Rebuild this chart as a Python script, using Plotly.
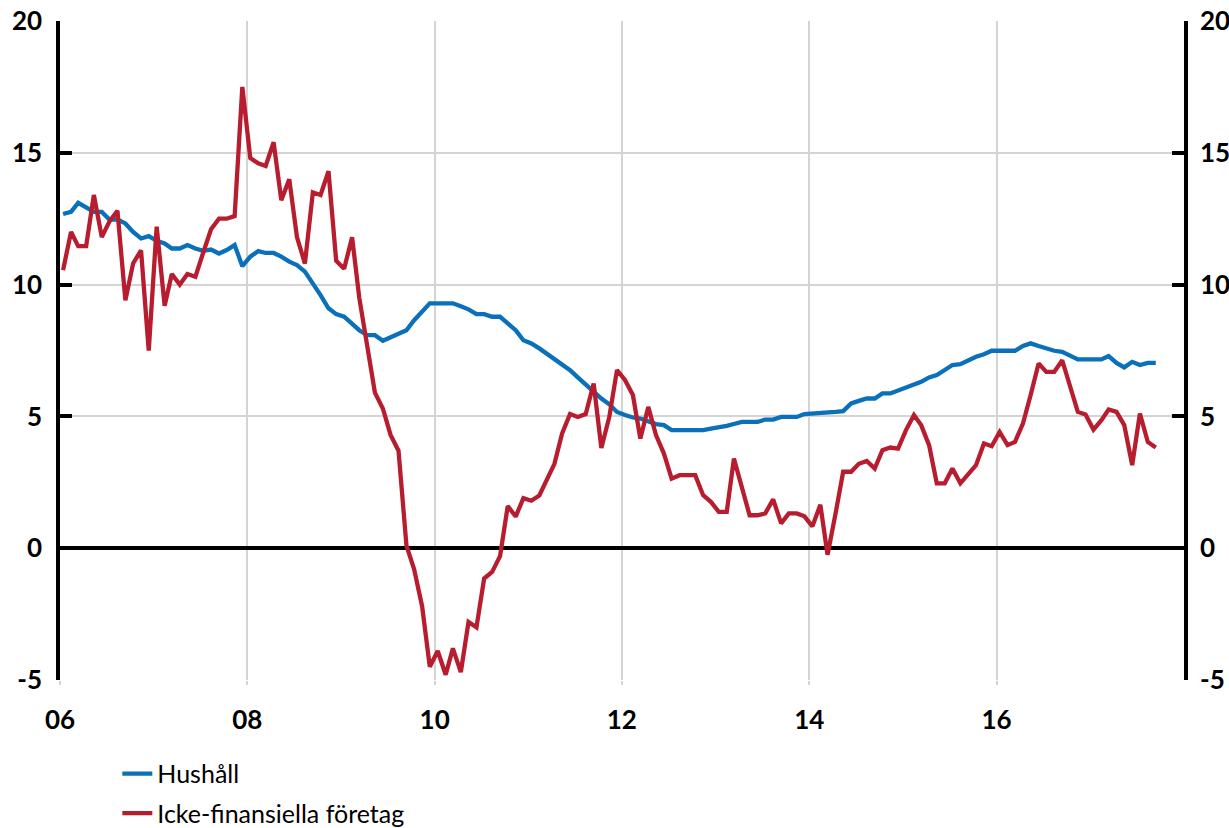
import pandas as pd
import plotly.graph_objects as go

start_month = "2006-01"
n_months = 141

hushall = [
    12.68, 12.76, 13.10, 12.93, 12.76, 12.76, 12.47, 12.47, 12.32, 12.00, 11.75, 11.84,
    11.66, 11.56, 11.37, 11.37, 11.50, 11.37, 11.28, 11.33, 11.18, 11.31, 11.50, 10.70,
    11.06, 11.27, 11.20, 11.20, 11.06, 10.87, 10.74, 10.49, 10.07, 9.60, 9.10, 8.88,
    8.78, 8.53, 8.27, 8.08, 8.08, 7.87, 8.00, 8.17, 8.27, 8.65, 8.97, 9.29,
    9.29, 9.29, 9.29, 9.18, 9.06, 8.88, 8.88, 8.78, 8.78, 8.53, 8.27, 7.89,
    7.77, 7.58, 7.39, 7.20, 7.01, 6.75, 6.48, 6.20, 5.90, 5.68, 5.46, 5.17,
    5.05, 4.96, 4.92, 4.83, 4.71, 4.67, 4.48, 4.48, 4.48, 4.48, 4.48, 4.54,
    4.58, 4.64, 4.71, 4.79, 4.79, 4.79, 4.88, 4.88, 4.98, 4.98, 4.98, 5.09,
    5.11, 5.11, 5.11, 5.17, 5.20, 5.49, 5.59, 5.68, 5.68, 5.87, 5.87, 5.97,
    6.10, 6.19, 6.31, 6.48, 6.57, 6.76, 6.95, 6.98, 7.13, 7.26, 7.36, 7.49,
    7.49, 7.49, 7.49, 7.67, 7.77, 7.67, 7.58, 7.49, 7.45, 7.29, 7.16, 7.16,
    7.16, 7.16, 7.29, 7.03, 6.86, 7.07, 6.95, 7.03, 7.03,
]

foretag = [
    10.55, 12.00, 11.46, 11.46, 13.40, 11.80, 12.40, 12.80, 9.40, 10.80, 11.30, 7.50,
    12.20, 9.20, 10.40, 10.00, 10.40, 10.30, 11.20, 12.10, 12.50, 12.50, 12.60, 17.50,
    14.80, 14.60, 14.50, 15.40, 13.20, 14.00, 11.80, 10.80, 13.50, 13.40, 14.30, 10.90,
    10.60, 11.80, 9.50, 7.60, 5.90, 5.30, 4.30, 3.70, 0.10, -0.80, -2.20, -4.50,
    -3.90, -4.80, -3.80, -4.70, -2.80, -3.00, -1.15, -0.90, -0.30, 1.60, 1.20, 1.90,
    1.80, 2.00, 2.60, 3.20, 4.35, 5.09, 4.98, 5.09, 6.25, 3.80, 4.98, 6.76,
    6.38, 5.81, 4.16, 5.36, 4.29, 3.59, 2.64, 2.77, 2.77, 2.77, 2.01, 1.76,
    1.38, 1.38, 3.40, 2.33, 1.25, 1.25, 1.32, 1.85, 0.94, 1.32, 1.32, 1.21,
    0.83, 1.65, -0.25, 1.30, 2.90, 2.90, 3.20, 3.31, 3.02, 3.72, 3.82, 3.78,
    4.48, 5.05, 4.67, 3.91, 2.46, 2.46, 3.02, 2.46, 2.83, 3.15, 3.97, 3.87,
    4.41, 3.91, 4.03, 4.73, 5.81, 7.01, 6.69, 6.69, 7.13, 6.12, 5.17, 5.07,
    4.50, 4.86, 5.26, 5.17, 4.67, 3.15, 5.11, 4.03, 3.82,
]

series_names = ["Hushåll", "Icke-finansiella företag"]
y_ticks = [-5, 0, 5, 10, 15, 20]
y_ticktext = ["-5", "0", "5", "10", "15", "20"]
x_tickvals = ["2006-01-01", "2008-01-01", "2010-01-01", "2012-01-01", "2014-01-01", "2016-01-01"]
x_ticktext = ["06", "08", "10", "12", "14", "16"]

dates = pd.period_range(start_month, periods=n_months, freq="M").to_timestamp() + pd.Timedelta(days=12)

BLUE = "#0A70BA"
RED = "#B81D2F"
GRID = "#D4D4D4"
FONT = "Lato"

fig = go.Figure()
fig.add_trace(go.Scatter(x=dates, y=hushall, name=series_names[0], mode="lines",
                         legendgroup="a", line=dict(color=BLUE, width=4.3)))
fig.add_trace(go.Scatter(x=dates, y=foretag, name=series_names[1], mode="lines",
                         legendgroup="b", line=dict(color=RED, width=4.3)))
# invisible trace so the right axis is drawn
fig.add_trace(go.Scatter(x=dates[:1], y=[None], yaxis="y2", showlegend=False,
                         hoverinfo="skip", mode="lines"))

tickfont = dict(family=FONT, size=26, color="black", weight="bold")

fig.update_layout(
    width=1229, height=828,
    margin=dict(l=60, r=45, t=21, b=148, autoexpand=False),
    paper_bgcolor="white", plot_bgcolor="white",
    showlegend=True,
    legend=dict(orientation="v", x=0.051, xanchor="left", y=-0.1075, yanchor="top",
                font=dict(family=FONT, size=25, color="black"),
                bgcolor="rgba(0,0,0,0)", tracegroupgap=4, itemwidth=30),
    xaxis=dict(
        type="date", automargin=False,
        range=["2006-01-01", "2018-01-01"],
        tickvals=x_tickvals, ticktext=x_ticktext,
        showgrid=True, gridcolor=GRID, gridwidth=1.5,
        showline=False, zeroline=False,
        ticks="outside", ticklen=4, tickcolor=GRID, tickwidth=1.5,
        tickfont=tickfont, ticklabelstandoff=13,
    ),
    yaxis=dict(
        range=[-5, 20], tickvals=y_ticks, ticktext=y_ticktext, automargin=False,
        showgrid=True, gridcolor=GRID, gridwidth=1.5,
        showline=True, linecolor="black", linewidth=3.5,
        zeroline=True, zerolinecolor="black", zerolinewidth=4,
        ticks="inside", ticklen=12, tickwidth=3.5, tickcolor="black",
        tickfont=tickfont, ticklabelstandoff=9,
    ),
    yaxis2=dict(
        range=[-5, 20], tickvals=y_ticks, ticktext=y_ticktext, overlaying="y", side="right",
        automargin=False,
        showgrid=False, showline=True, linecolor="black", linewidth=3.5,
        zeroline=False,
        ticks="inside", ticklen=12, tickwidth=3.5, tickcolor="black",
        tickfont=tickfont, ticklabelstandoff=7,
    ),
)

fig.write_html("out.html", config={"displayModeBar": False},
               post_script="document.body.style.margin='0';document.body.style.padding='0';")
